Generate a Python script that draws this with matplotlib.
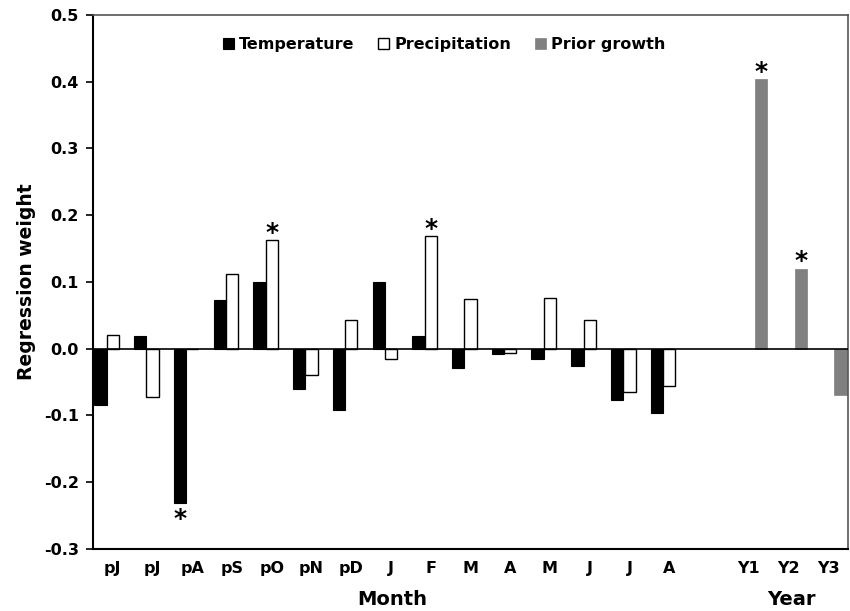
import numpy as np
import matplotlib
matplotlib.use('Agg')
from matplotlib import pyplot as plt

plt.rcParams['font.family'] = ['DejaVu Sans']
plt.rcParams['font.weight'] = 'bold'

months = ['pJ', 'pJ', 'pA', 'pS', 'pO', 'pN', 'pD', 'J', 'F', 'M', 'A', 'M', 'J', 'J', 'A']
years = ['Y1', 'Y2', 'Y3']
temperature = [-0.084, 0.0185, -0.2315, 0.0725, 0.100, -0.060, -0.0925, 0.100, 0.0185,
               -0.029, -0.008, -0.0155, -0.0265, -0.0765, -0.097]
precipitation = [0.020, -0.073, -0.001, 0.1115, 0.1625, -0.040, 0.0425, -0.0155, 0.169,
                 0.074, -0.007, 0.076, 0.0425, -0.065, -0.056]
prior_growth = [0.404, 0.120, -0.069]
# significant bars
sig_temp = [2]
sig_prec = [4, 8]
sig_prior = [0, 1]

xm = np.arange(len(months))
xy = np.arange(len(years)) + len(months) + 1
w = 0.31

fig = plt.figure(figsize=(8.5, 6.11), dpi=100)
ax = fig.add_axes([0.1094, 0.1015, 0.8882, 0.874])

ax.bar(xm - w, temperature, w, color='black', edgecolor='black', linewidth=0.8, label='Temperature')
ax.bar(xm, precipitation, w, color='white', edgecolor='black', linewidth=1.0, label='Precipitation')
ax.bar(xy + w, prior_growth, w, color='#808080', edgecolor='#808080', linewidth=0.5, label='Prior growth')

ax.axhline(0, color='black', linewidth=1.2, zorder=3)

star = dict(ha='center', fontsize=18, fontweight='bold')
for i in sig_temp:
    ax.text(xm[i] - w, temperature[i] - 0.006, '*', va='top', **star)
for i in sig_prec:
    ax.text(xm[i], precipitation[i] - 0.007, '*', va='bottom', **star)
for i in sig_prior:
    ax.text(xy[i] + w, prior_growth[i] - 0.007, '*', va='bottom', **star)

ax.set_xlim(-0.5, 18.5)
ax.set_ylim(-0.3, 0.5)
yt = np.arange(-0.3, 0.51, 0.1)
ax.set_yticks(yt)
ax.set_yticklabels([f'{v:.1f}' for v in yt], fontsize=11.5, fontweight='bold')
ax.set_xticks(list(xm) + list(xy))
ax.set_xticklabels(months + years, fontsize=11.5, fontweight='bold')
ax.tick_params(axis='x', length=0, pad=9)
ax.tick_params(axis='y', length=5, width=1.2, direction='out', pad=5)

for s in ['left', 'bottom']:
    ax.spines[s].set_linewidth(1.5)
    ax.spines[s].set_color('black')
for s in ['top', 'right']:
    ax.spines[s].set_linewidth(1.2)
    ax.spines[s].set_color('#555555')

ax.set_ylabel('Regression weight', fontsize=13.5, fontweight='bold', labelpad=6)
fig.text(392 / 850, 0.004, 'Month', ha='center', va='bottom', fontsize=14, fontweight='bold')
fig.text(791 / 850, 0.004, 'Year', ha='center', va='bottom', fontsize=14, fontweight='bold')

ax.legend(loc='upper center', bbox_to_anchor=(0.465, 0.985), ncol=3, frameon=False,
          handlelength=0.7, handleheight=0.7, handletextpad=0.3,
          columnspacing=1.5, prop={'weight': 'bold', 'size': 11.5})

fig.savefig('out.png', dpi=100)
